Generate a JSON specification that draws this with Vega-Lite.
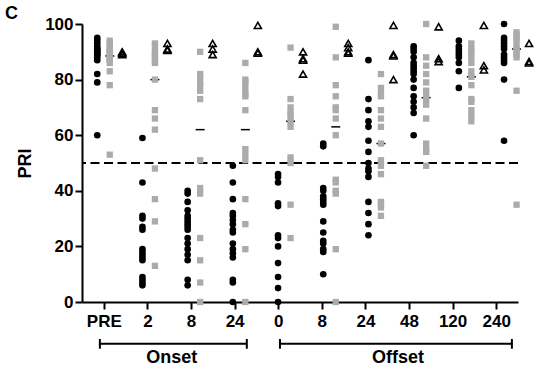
{
  "$schema": "https://vega.github.io/schema/vega-lite/v6.json",
  "width": 436,
  "height": 278,
  "autosize": {"type": "none"},
  "padding": {"left": 82, "top": 24, "right": 32, "bottom": 71},
  "title": {"text": "C", "anchor": "start", "frame": "group", "dx": -77, "dy": 13, "offset": 5, "fontSize": 18, "fontWeight": "bold", "color": "black", "font": "Liberation Sans"},
  "config": {
    "font": "Liberation Sans",
    "view": {"stroke": null},
    "axis": {"domainColor": "black", "domainWidth": 2, "tickColor": "black", "tickWidth": 2, "tickSize": 7, "labelColor": "black", "labelFontSize": 17, "labelFontWeight": "bold", "labelFont": "Liberation Sans", "grid": false, "titleFont": "Liberation Sans", "titleFontSize": 18, "titleFontWeight": "bold", "titleColor": "black"},
    "axisY": {"labelPadding": 2, "titlePadding": 10},
    "axisX": {"labelPadding": 4, "labelAngle": 0}
  },
  "datasets": {
    "pts": [
      {"t":"PRE","s":"A","v":95},{"t":"PRE","s":"A","v":94},{"t":"PRE","s":"A","v":93},{"t":"PRE","s":"A","v":92},{"t":"PRE","s":"A","v":91},{"t":"PRE","s":"A","v":91},{"t":"PRE","s":"A","v":90},{"t":"PRE","s":"A","v":90},{"t":"PRE","s":"A","v":89},{"t":"PRE","s":"A","v":89},{"t":"PRE","s":"A","v":88},{"t":"PRE","s":"A","v":87},{"t":"PRE","s":"A","v":82},{"t":"PRE","s":"A","v":79},{"t":"PRE","s":"A","v":60},
      {"t":"PRE","s":"B","v":94},{"t":"PRE","s":"B","v":93},{"t":"PRE","s":"B","v":92},{"t":"PRE","s":"B","v":91},{"t":"PRE","s":"B","v":90},{"t":"PRE","s":"B","v":90},{"t":"PRE","s":"B","v":89},{"t":"PRE","s":"B","v":88},{"t":"PRE","s":"B","v":88},{"t":"PRE","s":"B","v":87},{"t":"PRE","s":"B","v":86},{"t":"PRE","s":"B","v":83},{"t":"PRE","s":"B","v":78},{"t":"PRE","s":"B","v":53},
      {"t":"PRE","s":"C","v":90},{"t":"PRE","s":"C","v":89.5},{"t":"PRE","s":"C","v":89},
      {"t":"On2","s":"A","v":59},{"t":"On2","s":"A","v":43},{"t":"On2","s":"A","v":31},{"t":"On2","s":"A","v":30},{"t":"On2","s":"A","v":27},{"t":"On2","s":"A","v":26},{"t":"On2","s":"A","v":19},{"t":"On2","s":"A","v":18},{"t":"On2","s":"A","v":17},{"t":"On2","s":"A","v":16},{"t":"On2","s":"A","v":15},{"t":"On2","s":"A","v":9},{"t":"On2","s":"A","v":8},{"t":"On2","s":"A","v":7},{"t":"On2","s":"A","v":6},
      {"t":"On2","s":"B","v":93},{"t":"On2","s":"B","v":92},{"t":"On2","s":"B","v":90},{"t":"On2","s":"B","v":89},{"t":"On2","s":"B","v":88},{"t":"On2","s":"B","v":87},{"t":"On2","s":"B","v":86},{"t":"On2","s":"B","v":80},{"t":"On2","s":"B","v":69},{"t":"On2","s":"B","v":66},{"t":"On2","s":"B","v":62},{"t":"On2","s":"B","v":48},{"t":"On2","s":"B","v":37},{"t":"On2","s":"B","v":29},{"t":"On2","s":"B","v":13},
      {"t":"On2","s":"C","v":93},{"t":"On2","s":"C","v":91},{"t":"On2","s":"C","v":90.5},
      {"t":"On8","s":"A","v":40},{"t":"On8","s":"A","v":39},{"t":"On8","s":"A","v":36},{"t":"On8","s":"A","v":33},{"t":"On8","s":"A","v":31},{"t":"On8","s":"A","v":30},{"t":"On8","s":"A","v":29},{"t":"On8","s":"A","v":28},{"t":"On8","s":"A","v":27},{"t":"On8","s":"A","v":26},{"t":"On8","s":"A","v":23},{"t":"On8","s":"A","v":21},{"t":"On8","s":"A","v":19},{"t":"On8","s":"A","v":17},{"t":"On8","s":"A","v":15},{"t":"On8","s":"A","v":8},{"t":"On8","s":"A","v":6},
      {"t":"On8","s":"B","v":90},{"t":"On8","s":"B","v":82},{"t":"On8","s":"B","v":81},{"t":"On8","s":"B","v":79},{"t":"On8","s":"B","v":78},{"t":"On8","s":"B","v":76},{"t":"On8","s":"B","v":73},{"t":"On8","s":"B","v":51},{"t":"On8","s":"B","v":41},{"t":"On8","s":"B","v":39},{"t":"On8","s":"B","v":23},{"t":"On8","s":"B","v":15},{"t":"On8","s":"B","v":7},{"t":"On8","s":"B","v":0},
      {"t":"On8","s":"C","v":93},{"t":"On8","s":"C","v":91},{"t":"On8","s":"C","v":89},
      {"t":"On24","s":"A","v":49},{"t":"On24","s":"A","v":43},{"t":"On24","s":"A","v":37},{"t":"On24","s":"A","v":32},{"t":"On24","s":"A","v":31},{"t":"On24","s":"A","v":29.5},{"t":"On24","s":"A","v":28},{"t":"On24","s":"A","v":26},{"t":"On24","s":"A","v":25},{"t":"On24","s":"A","v":21},{"t":"On24","s":"A","v":19},{"t":"On24","s":"A","v":17.5},{"t":"On24","s":"A","v":16},{"t":"On24","s":"A","v":8},{"t":"On24","s":"A","v":7},{"t":"On24","s":"A","v":0},
      {"t":"On24","s":"B","v":86},{"t":"On24","s":"B","v":80},{"t":"On24","s":"B","v":79},{"t":"On24","s":"B","v":77},{"t":"On24","s":"B","v":75},{"t":"On24","s":"B","v":74},{"t":"On24","s":"B","v":69},{"t":"On24","s":"B","v":55},{"t":"On24","s":"B","v":53},{"t":"On24","s":"B","v":51},{"t":"On24","s":"B","v":37},{"t":"On24","s":"B","v":28},{"t":"On24","s":"B","v":19},{"t":"On24","s":"B","v":0},
      {"t":"On24","s":"C","v":99.5},{"t":"On24","s":"C","v":90},{"t":"On24","s":"C","v":89.5},
      {"t":"Off0","s":"A","v":46},{"t":"Off0","s":"A","v":45},{"t":"Off0","s":"A","v":43},{"t":"Off0","s":"A","v":35.5},{"t":"Off0","s":"A","v":34.5},{"t":"Off0","s":"A","v":24},{"t":"Off0","s":"A","v":23},{"t":"Off0","s":"A","v":20},{"t":"Off0","s":"A","v":14},{"t":"Off0","s":"A","v":9},{"t":"Off0","s":"A","v":5},{"t":"Off0","s":"A","v":0},
      {"t":"Off0","s":"B","v":91.5},{"t":"Off0","s":"B","v":73},{"t":"Off0","s":"B","v":70},{"t":"Off0","s":"B","v":68},{"t":"Off0","s":"B","v":67},{"t":"Off0","s":"B","v":65},{"t":"Off0","s":"B","v":63},{"t":"Off0","s":"B","v":52},{"t":"Off0","s":"B","v":50},{"t":"Off0","s":"B","v":35},{"t":"Off0","s":"B","v":23},
      {"t":"Off0","s":"C","v":90},{"t":"Off0","s":"C","v":87.5},{"t":"Off0","s":"C","v":87},{"t":"Off0","s":"C","v":82},
      {"t":"Off8","s":"A","v":57},{"t":"Off8","s":"A","v":56},{"t":"Off8","s":"A","v":41},{"t":"Off8","s":"A","v":40},{"t":"Off8","s":"A","v":38},{"t":"Off8","s":"A","v":37},{"t":"Off8","s":"A","v":36},{"t":"Off8","s":"A","v":35},{"t":"Off8","s":"A","v":29},{"t":"Off8","s":"A","v":25},{"t":"Off8","s":"A","v":22},{"t":"Off8","s":"A","v":21},{"t":"Off8","s":"A","v":19},{"t":"Off8","s":"A","v":18},{"t":"Off8","s":"A","v":10},
      {"t":"Off8","s":"B","v":99},{"t":"Off8","s":"B","v":88},{"t":"Off8","s":"B","v":78},{"t":"Off8","s":"B","v":74},{"t":"Off8","s":"B","v":70},{"t":"Off8","s":"B","v":69},{"t":"Off8","s":"B","v":66},{"t":"Off8","s":"B","v":60},{"t":"Off8","s":"B","v":44},{"t":"Off8","s":"B","v":43},{"t":"Off8","s":"B","v":40},{"t":"Off8","s":"B","v":39},{"t":"Off8","s":"B","v":19},{"t":"Off8","s":"B","v":0},
      {"t":"Off8","s":"C","v":93},{"t":"Off8","s":"C","v":91.5},{"t":"Off8","s":"C","v":90},{"t":"Off8","s":"C","v":89.5},
      {"t":"Off24","s":"A","v":87},{"t":"Off24","s":"A","v":73},{"t":"Off24","s":"A","v":69},{"t":"Off24","s":"A","v":65},{"t":"Off24","s":"A","v":63},{"t":"Off24","s":"A","v":58},{"t":"Off24","s":"A","v":54},{"t":"Off24","s":"A","v":50},{"t":"Off24","s":"A","v":48},{"t":"Off24","s":"A","v":47},{"t":"Off24","s":"A","v":45},{"t":"Off24","s":"A","v":36},{"t":"Off24","s":"A","v":32},{"t":"Off24","s":"A","v":28},{"t":"Off24","s":"A","v":24},
      {"t":"Off24","s":"B","v":82},{"t":"Off24","s":"B","v":77},{"t":"Off24","s":"B","v":75},{"t":"Off24","s":"B","v":74},{"t":"Off24","s":"B","v":69},{"t":"Off24","s":"B","v":66},{"t":"Off24","s":"B","v":63},{"t":"Off24","s":"B","v":57},{"t":"Off24","s":"B","v":51},{"t":"Off24","s":"B","v":49},{"t":"Off24","s":"B","v":46},{"t":"Off24","s":"B","v":36},{"t":"Off24","s":"B","v":35},{"t":"Off24","s":"B","v":34},{"t":"Off24","s":"B","v":31},
      {"t":"Off24","s":"C","v":99.5},{"t":"Off24","s":"C","v":89},{"t":"Off24","s":"C","v":88.5},{"t":"Off24","s":"C","v":80},
      {"t":"Off48","s":"A","v":92},{"t":"Off48","s":"A","v":91},{"t":"Off48","s":"A","v":90},{"t":"Off48","s":"A","v":88},{"t":"Off48","s":"A","v":86},{"t":"Off48","s":"A","v":85},{"t":"Off48","s":"A","v":84},{"t":"Off48","s":"A","v":83},{"t":"Off48","s":"A","v":82},{"t":"Off48","s":"A","v":80},{"t":"Off48","s":"A","v":77},{"t":"Off48","s":"A","v":74},{"t":"Off48","s":"A","v":72},{"t":"Off48","s":"A","v":70},{"t":"Off48","s":"A","v":68},{"t":"Off48","s":"A","v":60},
      {"t":"Off48","s":"B","v":100},{"t":"Off48","s":"B","v":88},{"t":"Off48","s":"B","v":85},{"t":"Off48","s":"B","v":82},{"t":"Off48","s":"B","v":79},{"t":"Off48","s":"B","v":76},{"t":"Off48","s":"B","v":74},{"t":"Off48","s":"B","v":73},{"t":"Off48","s":"B","v":71},{"t":"Off48","s":"B","v":66},{"t":"Off48","s":"B","v":57},{"t":"Off48","s":"B","v":55},{"t":"Off48","s":"B","v":54},{"t":"Off48","s":"B","v":49},
      {"t":"Off48","s":"C","v":99},{"t":"Off48","s":"C","v":87.5},{"t":"Off48","s":"C","v":86.5},
      {"t":"Off120","s":"A","v":94},{"t":"Off120","s":"A","v":92},{"t":"Off120","s":"A","v":91},{"t":"Off120","s":"A","v":90},{"t":"Off120","s":"A","v":89},{"t":"Off120","s":"A","v":88},{"t":"Off120","s":"A","v":86},{"t":"Off120","s":"A","v":83},{"t":"Off120","s":"A","v":77},
      {"t":"Off120","s":"B","v":93},{"t":"Off120","s":"B","v":91},{"t":"Off120","s":"B","v":90},{"t":"Off120","s":"B","v":88},{"t":"Off120","s":"B","v":86},{"t":"Off120","s":"B","v":83},{"t":"Off120","s":"B","v":81},{"t":"Off120","s":"B","v":78},{"t":"Off120","s":"B","v":73},{"t":"Off120","s":"B","v":72},{"t":"Off120","s":"B","v":69},{"t":"Off120","s":"B","v":67},{"t":"Off120","s":"B","v":65},
      {"t":"Off120","s":"C","v":99.5},{"t":"Off120","s":"C","v":85},{"t":"Off120","s":"C","v":83.5},
      {"t":"Off240","s":"A","v":100},{"t":"Off240","s":"A","v":95},{"t":"Off240","s":"A","v":94},{"t":"Off240","s":"A","v":93},{"t":"Off240","s":"A","v":92},{"t":"Off240","s":"A","v":91},{"t":"Off240","s":"A","v":89},{"t":"Off240","s":"A","v":88},{"t":"Off240","s":"A","v":87},{"t":"Off240","s":"A","v":86},{"t":"Off240","s":"A","v":80},{"t":"Off240","s":"A","v":58},
      {"t":"Off240","s":"B","v":97},{"t":"Off240","s":"B","v":96},{"t":"Off240","s":"B","v":95},{"t":"Off240","s":"B","v":94},{"t":"Off240","s":"B","v":92},{"t":"Off240","s":"B","v":91},{"t":"Off240","s":"B","v":90},{"t":"Off240","s":"B","v":89},{"t":"Off240","s":"B","v":88},{"t":"Off240","s":"B","v":76},{"t":"Off240","s":"B","v":35},
      {"t":"Off240","s":"C","v":93},{"t":"Off240","s":"C","v":86.5},{"t":"Off240","s":"C","v":86}
    ],
    "br": [
      {"lab": "Onset", "a": 0.41, "b": 3.78, "m": 2.06},
      {"lab": "Offset", "a": 4.54, "b": 9.86, "m": 7.25}
    ]
  },
  "resolve": {"scale": {"x": "independent"}},
  "layer": [
    {
      "data": {"name": "pts"},
      "mark": {"type": "point", "opacity": 0},
      "encoding": {
        "x": {"field": "t", "type": "nominal", "scale": {"domain": ["PRE","On2","On8","On24","Off0","Off8","Off24","Off48","Off120","Off240"], "paddingInner": 0, "paddingOuter": 0}, "axis": {"title": null, "labelExpr": "datum.value == 'PRE' ? 'PRE' : replace(replace(datum.value, 'Off', ''), 'On', '')"}},
        "y": {"field": "v", "type": "quantitative", "scale": {"domain": [0, 100], "nice": false}, "title": "PRI", "axis": {"values": [0, 20, 40, 60, 80, 100]}}
      }
    },
    {
      "data": {"values": [{"v": 50}]},
      "mark": {"type": "rule", "strokeDash": [9, 4.5], "strokeWidth": 2, "color": "black"},
      "encoding": {"y": {"field": "v", "type": "quantitative", "scale": {"domain": [0, 100], "nice": false}, "title": "PRI"}}
    },
    {
      "data": {"name": "pts"},
      "encoding": {
        "x": {"field": "t", "type": "nominal", "scale": {"domain": ["PRE","On2","On8","On24","Off0","Off8","Off24","Off48","Off120","Off240"], "range": [0, 452], "paddingInner": 0, "paddingOuter": 0}, "axis": null},
        "xOffset": {"field": "s", "type": "nominal", "scale": {"type": "band", "domain": ["A", "B", "C"], "range": [9, 46.5], "paddingInner": 0, "paddingOuter": 0}},
        "y": {"field": "v", "type": "quantitative", "scale": {"domain": [0, 100], "nice": false}, "title": "PRI"}
      },
      "layer": [
        {
          "transform": [{"filter": "datum.s == 'B'"}, {"aggregate": [{"op": "median", "field": "v", "as": "v"}], "groupby": ["t", "s"]}],
          "mark": {"type": "tick", "size": 9, "thickness": 1.5, "color": "black", "opacity": 1}
        },
        {
          "transform": [{"filter": "datum.s == 'A'"}],
          "mark": {"type": "circle", "size": 44, "color": "black", "opacity": 1}
        },
        {
          "transform": [{"filter": "datum.s == 'B'"}],
          "mark": {"type": "square", "size": 40, "color": "#ababab", "opacity": 1}
        },
        {
          "transform": [{"filter": "datum.s == 'C'"}],
          "mark": {"type": "point", "shape": "triangle-up", "size": 50, "filled": false, "stroke": "black", "strokeWidth": 1.6, "opacity": 1}
        }
      ]
    },
    {
      "data": {"name": "br"},
      "layer": [
        {
          "mark": {"type": "rule", "color": "black", "strokeWidth": 2},
          "encoding": {
            "x": {"field": "a", "type": "quantitative", "scale": {"domain": [0, 10], "nice": false, "zero": false}, "axis": null},
            "x2": {"field": "b"},
            "y": {"datum": -15, "type": "quantitative", "scale": {"domain": [0, 100], "nice": false}, "title": "PRI"}
          }
        },
        {
          "transform": [{"fold": ["a", "b"], "as": ["k", "xe"]}],
          "mark": {"type": "rule", "color": "black", "strokeWidth": 2},
          "encoding": {
            "x": {"field": "xe", "type": "quantitative", "scale": {"domain": [0, 10], "nice": false, "zero": false}, "axis": null},
            "y": {"datum": -13.3, "type": "quantitative", "scale": {"domain": [0, 100], "nice": false}, "title": "PRI"},
            "y2": {"datum": -16.8}
          }
        },
        {
          "mark": {"type": "text", "fontSize": 18, "fontWeight": "bold", "color": "black", "font": "Liberation Sans", "baseline": "middle", "align": "center"},
          "encoding": {
            "x": {"field": "m", "type": "quantitative", "scale": {"domain": [0, 10], "nice": false, "zero": false}, "axis": null},
            "y": {"datum": -20.3, "type": "quantitative", "scale": {"domain": [0, 100], "nice": false}, "title": "PRI"},
            "text": {"field": "lab"}
          }
        }
      ]
    }
  ]
}
